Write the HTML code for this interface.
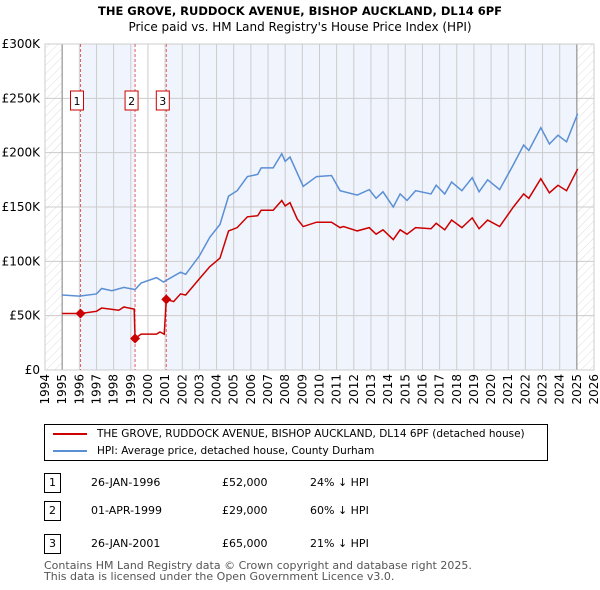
<!DOCTYPE html>
<html><head><meta charset="utf-8"><style>
body{margin:0;background:#fff;font-family:"DejaVu Sans","Liberation Sans",sans-serif;}
#wrap{position:relative;width:600px;height:590px;overflow:hidden}
.t{position:absolute;font-size:12px;color:#000;white-space:nowrap}
svg text{font-family:"DejaVu Sans","Liberation Sans",sans-serif}
</style></head><body><div id="wrap">
<div class="t" style="left:0;width:600px;text-align:center;top:4px;font-size:11.5px;font-weight:bold">THE GROVE, RUDDOCK AVENUE, BISHOP AUCKLAND, DL14 6PF</div>
<div class="t" style="left:0;width:600px;text-align:center;top:20px;font-size:12px">Price paid vs. HM Land Registry's House Price Index (HPI)</div>
<svg id="c" width="600" height="420" style="position:absolute;left:0;top:0"></svg>
<div style="position:absolute;left:44px;top:424px;width:504px;height:37px;border:1px solid #000;box-sizing:border-box">
<div style="position:absolute;left:8px;top:3px;font-size:10.5px;white-space:nowrap"><span style="display:inline-block;width:34px;border-top:2px solid #cc0000;vertical-align:middle;margin-right:10px"></span>THE GROVE, RUDDOCK AVENUE, BISHOP AUCKLAND, DL14 6PF (detached house)</div>
<div style="position:absolute;left:8px;top:20px;font-size:10.5px;white-space:nowrap"><span style="display:inline-block;width:34px;border-top:2px solid #5b8fd4;vertical-align:middle;margin-right:10px"></span>HPI: Average price, detached house, County Durham</div>
</div>
<div id="tbl"></div>
<div class="t" style="left:44px;top:559px;font-size:11px;color:#555">Contains HM Land Registry data © Crown copyright and database right 2025.</div>
<div class="t" style="left:44px;top:570px;font-size:11px;color:#555">This data is licensed under the Open Government Licence v3.0.</div>
</div>
<script>
const hpiYears=[1995.0,1996.0,1997.0,1997.3,1997.9,1998.6,1999.25,1999.6,2000.5,2000.9,2001.9,2002.2,2003.0,2003.6,2004.2,2004.7,2005.2,2005.8,2006.4,2006.6,2007.3,2007.8,2008.0,2008.28,2009.05,2009.83,2010.7,2011.2,2012.2,2012.9,2013.3,2013.7,2014.3,2014.7,2015.1,2015.6,2016.5,2016.8,2017.3,2017.7,2018.3,2018.9,2019.3,2019.8,2020.5,2021.3,2021.9,2022.2,2022.9,2023.4,2023.9,2024.4,2025.05];
const hpiValues=[69,68,70,75,73,76,74,80,85,81,90,88,105,122,134,160,165,178,180,186,186,199,192,196,169,178,179,165,161,166,158,164,150,162,156,165,162,170,162,173,165,177,164,175,166,189,207,202,223,208,216,210,236];
const ppYears=[1995.0,1996.07,1997.0,1997.3,1998.3,1998.6,1999.2,1999.25,1999.6,2000.5,2000.7,2000.95,2001.07,2001.5,2001.9,2002.2,2003.0,2003.6,2004.2,2004.7,2005.2,2005.8,2006.4,2006.6,2007.3,2007.8,2008.0,2008.28,2008.7,2009.05,2009.83,2010.7,2011.2,2011.4,2012.2,2012.9,2013.3,2013.7,2014.3,2014.7,2015.1,2015.6,2016.5,2016.8,2017.3,2017.7,2018.3,2018.9,2019.3,2019.8,2020.5,2021.3,2021.9,2022.2,2022.9,2023.4,2023.9,2024.4,2025.05];
const ppValues=[52,52,54,57,55,58,56,29,33,33,35,33,65,63,70,69,84,95,103,128,131,141,142,147,147,156,151,154,139,132,136,136,131,132,128,131,125,129,120,129,125,131,130,135,129,138,131,140,130,138,132,150,162,158,176,163,170,165,185];
const saleYears=[1996.07,1999.25,2001.07];
const saleValues=[52,29,65];
const saleLabels=["1","2","3"];
const saleDates=["26-JAN-1996","01-APR-1999","26-JAN-2001"];
const salePrices=["£52,000","£29,000","£65,000"];
const saleDiffs=["24% ↓ HPI","60% ↓ HPI","21% ↓ HPI"];
const yTicks=[0,50,100,150,200,250,300];
const yTickLabels=["£0","£50K","£100K","£150K","£200K","£250K","£300K"];
const xTicks=[1994,1995,1996,1997,1998,1999,2000,2001,2002,2003,2004,2005,2006,2007,2008,2009,2010,2011,2012,2013,2014,2015,2016,2017,2018,2019,2020,2021,2022,2023,2024,2025,2026];

const L=45,R=594,T=44,B=370;
const X=y=>L+(y-1994)/32*(R-L);
const Y=v=>B-v/300*(B-T);
const NS="http://www.w3.org/2000/svg";
const svg=document.getElementById('c');
function mk(tag,attrs,parent){const e=document.createElementNS(NS,tag);for(const k in attrs)e.setAttribute(k,attrs[k]);(parent||svg).appendChild(e);return e;}
const defs=mk('defs',{});
const pat=mk('pattern',{id:'hatch',width:6,height:6,patternUnits:'userSpaceOnUse',patternTransform:'rotate(45)'},defs);
mk('line',{x1:0,y1:0,x2:0,y2:6,stroke:'#ddd','stroke-width':1},pat);
let e;
e=mk('rect',{x:X(1995),y:T,width:X(2025)-X(1995),height:B-T,fill:'#fff'});

e=mk('rect',{x:X(saleYears[0]),y:T,width:X(saleYears[1])-X(saleYears[0]),height:B-T,fill:'#f0f4fd'});

e=mk('rect',{x:X(saleYears[2]),y:T,width:X(2025)-X(saleYears[2]),height:B-T,fill:'#f0f4fd'});

e=mk('rect',{x:L,y:T,width:X(1995)-L,height:B-T,fill:'url(#hatch)'});

e=mk('rect',{x:X(2025),y:T,width:R-X(2025),height:B-T,fill:'url(#hatch)'});

xTicks.forEach((yr,i)=>{
 const g=mk('line',{x1:X(yr),x2:X(yr),y1:T,y2:B,stroke:'#ccc','stroke-width':1});
 
 const tx=X(yr)+4;
 const t=mk('text',{x:tx,y:374,transform:`rotate(-90 ${tx} 374)`,'text-anchor':'end','font-size':12,fill:'#000'});
 t.textContent=yr;
 
});
yTicks.forEach((v,i)=>{
 const g=mk('line',{x1:L,x2:R,y1:Y(v),y2:Y(v),stroke:'#ccc','stroke-width':1});
 
 const t=mk('text',{x:40,y:Y(v)+4,'text-anchor':'end','font-size':12,fill:'#000'});
 t.textContent=yTickLabels[i];
 
});
e=mk('line',{x1:X(1995),x2:X(1995),y1:T,y2:B,stroke:'#888','stroke-width':1});

e=mk('line',{x1:X(2025),x2:X(2025),y1:T,y2:B,stroke:'#888','stroke-width':1});

e=mk('rect',{x:L,y:T,width:R-L,height:B-T,fill:'none',stroke:'#ccc'});

saleYears.forEach((yr,i)=>{
 const l=mk('line',{x1:X(yr),x2:X(yr),y1:T,y2:B,stroke:'#e06060','stroke-width':1,'stroke-dasharray':'3,2'});
 
 const bx=mk('rect',{x:X(yr)-10,y:91,width:13,height:19,fill:'#fff',stroke:'#cc0000'});
 
 const t=mk('text',{x:X(yr)-3.5,y:105,'text-anchor':'middle','font-size':11,fill:'#000'});
 t.textContent=saleLabels[i];
 
});
e=mk('polyline',{points:hpiYears.map((y,i)=>X(y)+','+Y(hpiValues[i])).join(' '),fill:'none',stroke:'#5b8fd4','stroke-width':1.5});

e=mk('polyline',{points:ppYears.map((y,i)=>X(y)+','+Y(ppValues[i])).join(' '),fill:'none',stroke:'#cc0000','stroke-width':1.5});

saleYears.forEach((yr,i)=>{
 const x=X(yr),y=Y(saleValues[i]);
 const d=mk('polygon',{points:`${x},${y-5} ${x+5},${y} ${x},${y+5} ${x-5},${y}`,fill:'#cc0000'});
 
});
const tbl=document.getElementById('tbl');
const rowsY=[473,501,534];
saleYears.forEach((yr,i)=>{
 const r=document.createElement('div');
 
 
 r.style.cssText=`position:absolute;left:0;top:${rowsY[i]}px;width:600px;height:20px;font-size:11px`;
 r.innerHTML=`<span style="position:absolute;left:44px;top:0;width:15px;height:18px;border:1px solid #000;text-align:center;line-height:18px">${saleLabels[i]}</span><span style="position:absolute;left:91px;top:3px">${saleDates[i]}</span><span style="position:absolute;left:222px;top:3px">${salePrices[i]}</span><span style="position:absolute;left:310px;top:3px">${saleDiffs[i]}</span>`;
 tbl.appendChild(r);
});
</script></body></html>
